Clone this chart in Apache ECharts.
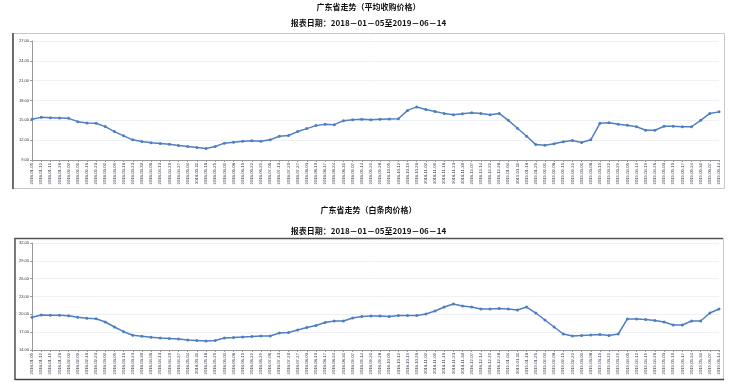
<!DOCTYPE html>
<html>
<head>
<meta charset="utf-8">
<script src="https://cdn.jsdelivr.net/npm/echarts@6/dist/echarts.min.js"></script>
<style>
html,body{margin:0;padding:0;background:#fff;}
#c{width:737px;height:386px;}
</style>
</head>
<body>
<div id="c"></div>
<script>
var dates = [
"2018-01-05","2018-01-12","2018-01-19","2018-01-26","2018-02-02","2018-02-09","2018-02-16","2018-02-23",
"2018-03-02","2018-03-09","2018-03-16","2018-03-23","2018-03-30","2018-04-06","2018-04-13","2018-04-20",
"2018-04-27","2018-05-04","2018-05-11","2018-05-18","2018-05-25","2018-06-01","2018-06-08","2018-06-15",
"2018-06-22","2018-06-29","2018-07-06","2018-07-13","2018-07-20","2018-07-27","2018-08-03","2018-08-10",
"2018-08-17","2018-08-24","2018-08-31","2018-09-07","2018-09-14","2018-09-21","2018-09-28","2018-10-05",
"2018-10-12","2018-10-19","2018-10-26","2018-11-02","2018-11-09","2018-11-16","2018-11-23","2018-11-30",
"2018-12-07","2018-12-14","2018-12-21","2018-12-28","2019-01-04","2019-01-11","2019-01-18","2019-01-25",
"2019-02-01","2019-02-08","2019-02-15","2019-02-22","2019-03-01","2019-03-08","2019-03-15","2019-03-22",
"2019-03-29","2019-04-05","2019-04-12","2019-04-19","2019-04-26","2019-05-03","2019-05-10","2019-05-17",
"2019-05-24","2019-05-31","2019-06-07","2019-06-14"
];
var purchasePrice = [
15.15,15.45,15.40,15.35,15.30,14.80,14.60,14.55,14.05,13.30,12.65,12.05,11.80,11.60,11.50,11.40,
11.20,11.05,10.90,10.75,11.05,11.55,11.70,11.85,11.90,11.85,12.05,12.60,12.70,13.30,13.75,14.20,
14.40,14.35,14.95,15.10,15.15,15.10,15.15,15.20,15.23,16.50,17.03,16.65,16.35,16.05,15.83,15.98,
16.13,16.05,15.83,16.05,15.00,13.80,12.60,11.33,11.22,11.45,11.75,11.95,11.65,12.05,14.55,14.63,
14.40,14.25,14.03,13.50,13.50,14.10,14.10,14.03,14.03,15.00,16.05,16.28
];
var porkPrice = [
19.50,19.89,19.84,19.84,19.77,19.50,19.33,19.27,18.71,17.87,17.08,16.47,16.30,16.14,16.02,15.93,
15.85,15.68,15.60,15.51,15.60,16.02,16.10,16.19,16.27,16.36,16.36,16.86,16.94,17.36,17.79,18.12,
18.63,18.88,18.88,19.38,19.64,19.72,19.72,19.64,19.81,19.81,19.81,20.06,20.56,21.23,21.74,21.40,
21.23,20.90,20.90,20.98,20.90,20.73,21.23,20.22,19.05,17.87,16.69,16.36,16.44,16.52,16.61,16.44,
16.69,19.22,19.22,19.13,18.96,18.71,18.20,18.20,18.88,18.88,20.22,20.90
];
var title1 = "广东省走势（平均收购价格）";
var title2 = "广东省走势（白条肉价格）";
var subtitle = "报表日期：2018－01－05至2019－06－14";

var chart = echarts.init(document.getElementById('c'), null, {renderer:'canvas'});
var font = '"Noto Sans CJK SC", sans-serif';
var lineColor = '#4f7fc0';

function xAxisCfg(gi){
  return {
    type:'category', gridIndex:gi, data:dates, boundaryGap:false,
    axisLine:{lineStyle:{color:'#999',width:1}},
    axisTick:{show:true,length:2,lineStyle:{color:'#999'},interval:0},
    axisLabel:{interval:0,rotate:90,fontSize:4.2,color:'#334',margin:3,fontFamily:'Arial'},
    splitLine:{show:false}
  };
}
function yAxisCfg(gi,min,max){
  return {
    type:'value', gridIndex:gi, min:min, max:max, interval:3,
    axisLine:{show:true,lineStyle:{color:'#999',width:1}},
    axisTick:{show:true,length:2,lineStyle:{color:'#999'}},
    axisLabel:{fontSize:4,color:'#333',margin:3,fontFamily:'Arial',formatter:function(v){return v.toFixed(2);}},
    splitLine:{show:true,lineStyle:{color:'#eef0f5',width:1}}
  };
}
function seriesCfg(gi,data){
  return {
    type:'line', xAxisIndex:gi, yAxisIndex:gi, data:data,
    symbol:'circle', symbolSize:3, showSymbol:true,
    lineStyle:{color:lineColor,width:1.5},
    itemStyle:{color:lineColor},
    animation:false
  };
}
function titleCfg(text,top){
  return {text:text,left:'center',top:top,padding:0,textStyle:{fontSize:8,fontWeight:'bold',color:'#111',fontFamily:font}};
}

chart.setOption({
  animation:false,
  textStyle:{fontFamily:font},
  title:[
    titleCfg(title1,3),
    titleCfg(subtitle,19),
    titleCfg(title2,206),
    titleCfg(subtitle,227)
  ],
  graphic:[
    {type:'rect',shape:{x:12.5,y:33.5,width:712,height:155},style:{fill:'none',stroke:'#c8c8c8',lineWidth:1},z:-1},
    {type:'line',shape:{x1:13,y1:33,x2:13,y2:189},style:{stroke:'#444',lineWidth:1.5},z:0},
    {type:'rect',shape:{x:14.5,y:238.5,width:709,height:141},style:{fill:'none',stroke:'#c8c8c8',lineWidth:1},z:-1},
    {type:'polyline',shape:{points:[[15,380],[15,238.5],[723,238.5]]},style:{stroke:'#555',lineWidth:1.5,fill:'none'},z:0},
    {type:'line',shape:{x1:15,y1:379.5,x2:724,y2:379.5},style:{stroke:'#444',lineWidth:1.5},z:0}
  ],
  grid:[
    {left:32,right:18,top:41,height:119},
    {left:32,right:18,top:243,height:107}
  ],
  xAxis:[xAxisCfg(0),xAxisCfg(1)],
  yAxis:[yAxisCfg(0,9,27),yAxisCfg(1,14,32)],
  series:[seriesCfg(0,purchasePrice),seriesCfg(1,porkPrice)]
});
</script>
</body>
</html>
